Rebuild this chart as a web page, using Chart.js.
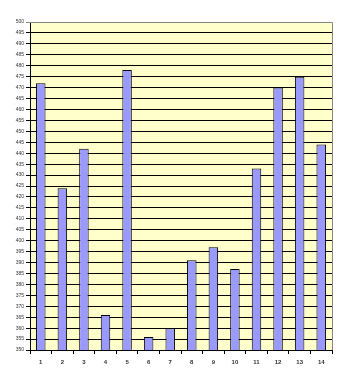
<!DOCTYPE html>
<html>
<head>
<meta charset="utf-8">
<script src="https://cdn.jsdelivr.net/npm/chart.js@4"></script>
<style>
html,body{margin:0;padding:0;background:#fff;}
#wrap{width:348px;height:385px;position:relative;}
</style>
</head>
<body>
<div id="wrap"><canvas id="c" width="348" height="385"></canvas></div>
<script>
const categories = ['1','2','3','4','5','6','7','8','9','10','11','12','13','14'];
const values = [472, 424, 442, 366, 478, 356, 360, 391, 397, 387, 433, 470, 475, 444];
const yMin = 350, yMax = 500, yStep = 5;

const bgPlugin = {
  id: 'bg',
  beforeDraw(chart) {
    const {ctx, chartArea: a} = chart;
    ctx.save();
    ctx.fillStyle = '#FFFFCC';
    ctx.fillRect(a.left, a.top, a.right - a.left, a.bottom - a.top);
    ctx.restore();
  },
  afterDatasetsDraw(chart) {
    const {ctx, chartArea: a} = chart;
    ctx.save();
    ctx.strokeStyle = '#888888';
    ctx.lineWidth = 1;
    ctx.beginPath();
    ctx.moveTo(a.left, a.top + 0.5);
    ctx.lineTo(a.right + 0.5, a.top + 0.5);
    ctx.lineTo(a.right + 0.5, a.bottom);
    ctx.stroke();
    ctx.restore();
  }
};

new Chart(document.getElementById('c'), {
  type: 'bar',
  data: {
    labels: categories,
    datasets: [{
      data: values,
      backgroundColor: '#9999FF',
      borderColor: '#000000',
      borderWidth: 1,
      barPercentage: 0.44,
      categoryPercentage: 1.0
    }]
  },
  options: {
    responsive: false,
    animation: false,
    devicePixelRatio: 1,
    layout: { padding: { top: 22, right: 16, left: 0, bottom: 0 } },
    plugins: { legend: { display: false }, tooltip: { enabled: false } },
    scales: {
      x: {
        offset: true,
        grid: { offset: true, drawOnChartArea: false, drawTicks: true, tickLength: 4, color: '#000' },
        border: { color: '#000', width: 1 },
        ticks: { font: { family: 'Liberation Sans', size: 6, weight: 'bold' }, color: '#333', padding: 5, maxRotation: 0 },
        afterFit(s) { s.height = 35; }
      },
      y: {
        min: yMin, max: yMax,
        grid: {
          color: (c) => (c.tick && c.tick.value === yMax) ? '#888888' : '#000000',
          lineWidth: 1, tickLength: 4, drawTicks: true
        },
        border: { color: '#000', width: 1 },
        ticks: { stepSize: yStep, font: { family: 'Liberation Sans', size: 5 }, color: '#333', padding: 2, autoSkip: false },
        afterFit(s) { s.width = 30; }
      }
    }
  },
  plugins: [bgPlugin]
});
</script>
</body>
</html>
